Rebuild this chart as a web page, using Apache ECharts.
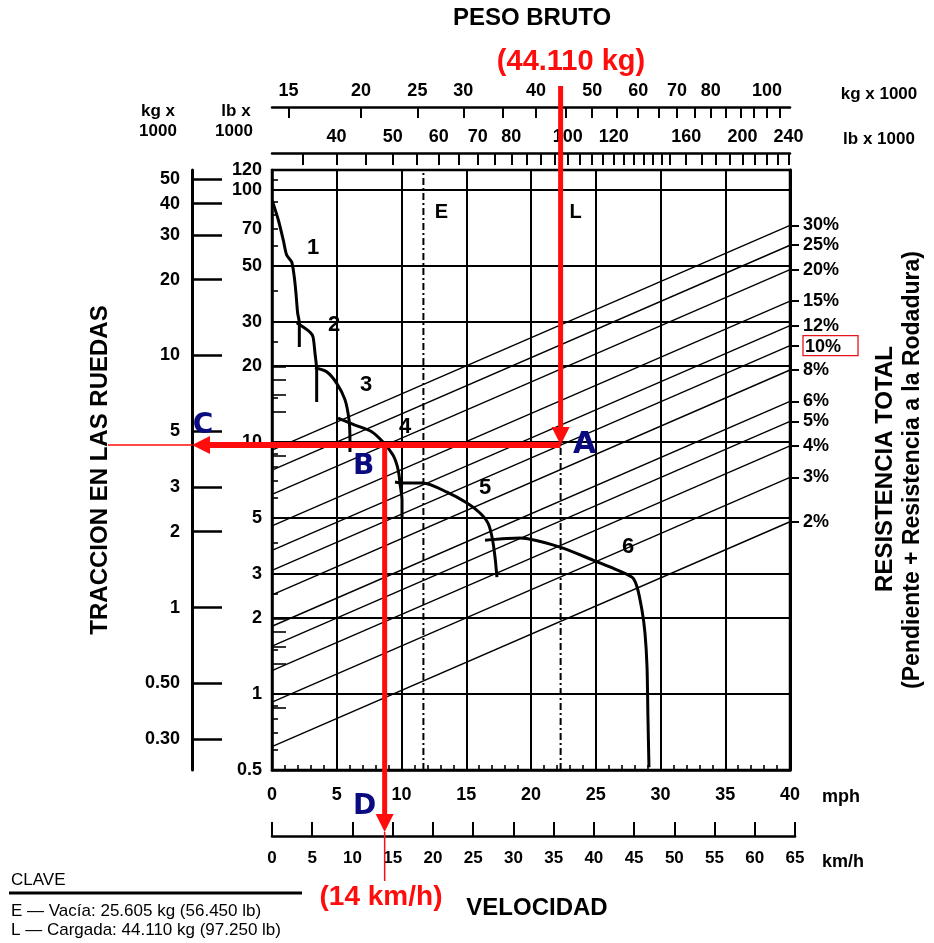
<!DOCTYPE html>
<html><head><meta charset="utf-8">
<script src="https://cdn.jsdelivr.net/npm/echarts@6/dist/echarts.min.js"></script>
<style>html,body{margin:0;padding:0;background:#fff}#c{width:934px;height:943px}</style>
</head><body><div id="c"></div>
<script>
// ---------------- data ----------------
// rimpull curves per gear: [speed mph, rimpull lb x 1000]
const gear1 = [[0.02,90.7],[0.49,76.0],[0.87,63.3],[1.13,55.2],[1.52,51.8],[1.72,45.2],[1.85,39.0],[1.98,32.5],[2.11,29.7],[2.11,23.8]];
const gear2 = [[1.91,29.7],[2.93,27.3],[3.17,26.1],[3.32,22.5],[3.45,19.3],[3.45,14.4]];
const gear3 = [[3.32,19.7],[4.22,19.0],[5.0,17.1],[5.64,14.7],[5.95,12.2],[6.02,10.2],[6.02,9.13]];
const gear4 = [[5.10,12.45],[6.41,11.68],[7.70,10.99],[8.57,10.0],[9.34,8.88],[9.65,8.10],[9.81,7.40],[9.88,6.88],[10.04,5.89],[10.04,4.99]];
const gear5 = [[9.50,6.94],[10.04,6.88],[11.66,6.88],[13.51,6.33],[15.06,5.73],[16.06,5.23],[16.68,4.77],[16.99,4.20],[17.22,3.50],[17.37,2.91]];
const gear6 = [[16.45,4.08],[19.15,4.16],[22.24,3.83],[24.79,3.40],[26.33,3.16],[27.80,2.91],[28.19,2.66],[28.57,2.15],[28.80,1.75],[28.96,1.28],[29.03,0.81],[29.11,0.513]];
const gears = [gear1, gear2, gear3, gear4, gear5, gear6];
// gear number labels: [text, mph, lb x 1000]
const gearLabels = [['1',3.17,58.9],['2',4.79,29.1],['3',7.26,16.8],['4',10.27,11.5],['5',16.45,6.57],['6',27.5,3.83]];
// total resistance lines (%)
const resistancePcts = [2,3,4,5,6,8,10,12,15,20,25,30];
const boxedPct = 10;
// weights (kg)
const E_KG = 25.605, L_KG = 44.11;
const SPEED_KMH = 14;
// axis ranges / ticks
const MPH_MAX = 40, KMH_MAX = 65, KMH_PER_MPH = 1.609344;
const KG_MIN = 14.05, KG_MAX = 109.5, LB_PER_KG = 2.20462;
const Y_MIN = 0.5, Y_MAX = 120;
const kgTopLabels = [15,20,25,30,40,50,60,70,80,100];
const kgTopTicks = [15,20,25,30,35,40,45,50,55,60,65,70,75,80,85,90,95,100,105];
const lbTopLabels = [40,50,60,70,80,100,120,160,200,240];
const lbTopTicks = [35,40,45,50,55,60,65,70,75,80,85,90,95,100,105,110,115,120,125,130,135,140,145,150,160,170,180,190,200,210,220,230,240];
const lbLeftLabels = [0.5,1,2,3,5,10,20,30,50,70,100,120];
const lbLeftTicks = [0.6,0.7,0.8,0.9,1,1.5,2,2.5,3,4,5,6,7,8,9,10,15,20,25,30,40,50,60,70,80,90,100,110];
const kgLeftLabels = [0.3,0.5,1,2,3,5,10,20,30,40,50];
const kgLeftMinor = [0.4,0.6,0.7,0.8,0.9,4,6,7,8,9];
const hGrid = [1,2,3,5,10,20,30,50,100];

// ---------------- layout ----------------
const GL = 272, GT = 170, GW = 518, GH = 600;
const KG_OFF = 80;
const G1_TOP = 835;
const FONT = "'Liberation Sans', Arial, Helvetica, sans-serif";
const LB_MIN = KG_MIN * LB_PER_KG, LB_MAX = KG_MAX * LB_PER_KG;
const lbl = {fontFamily: FONT, fontWeight: 'bold', fontSize: 18, color: '#000'};
const axLine = (w) => ({show: true, onZero: false, lineStyle: {color: '#000', width: w}});
const tickStyle = {color: '#000', width: 1.6};

const chart = echarts.init(document.getElementById('c'));

const series = [];
gears.forEach((g, i) => {
  series.push({
    type: 'line', name: 'Marcha ' + (i + 1), xAxisIndex: 0, yAxisIndex: 0,
    data: g, symbol: 'none', smooth: 0.25, z: 4,
    lineStyle: {color: '#000', width: 3},
    markLine: i === 0 ? {
      silent: true, symbol: ['none', 'none'], label: {show: false}, z: 1,
      lineStyle: {color: '#000', width: 2, type: 'solid'},
      data: hGrid.map(v => ({yAxis: v}))
    } : undefined
  });
});
resistancePcts.forEach(p => {
  series.push({
    type: 'line', name: p + '%', xAxisIndex: 3, yAxisIndex: 0, symbol: 'none', z: 2,
    lineStyle: {color: '#000', width: 1.4},
    data: [[LB_MIN, LB_MIN * p / 100], [LB_MAX, LB_MAX * p / 100]]
  });
});
[E_KG, L_KG].forEach((w, i) => {
  series.push({
    type: 'line', name: i ? 'L' : 'E', xAxisIndex: 2, yAxisIndex: 0, symbol: 'none', z: 3,
    lineStyle: {color: '#000', width: 2, type: [7, 3, 2, 3]},
    data: [[w, Y_MIN], [w, Y_MAX]]
  });
});

const option = {
  animation: false,
  backgroundColor: '#fff',
  grid: [
    {left: GL, top: GT, width: GW, height: GH, show: true, borderColor: '#000', borderWidth: 2.5, outerBoundsMode: 'none', containLabel: false},
    {left: GL, top: G1_TOP, width: GW * (KMH_MAX / KMH_PER_MPH) / MPH_MAX, height: 1, outerBoundsMode: 'none', containLabel: false}
  ],
  xAxis: [
    {gridIndex: 0, type: 'value', position: 'bottom', min: 0, max: MPH_MAX, interval: 5,
      axisLine: axLine(2.5), axisTick: {show: true, inside: true, length: 5, lineStyle: tickStyle},
      minorTick: {show: true, splitNumber: 5, length: 5, lineStyle: tickStyle},
      axisLabel: Object.assign({margin: 16}, lbl),
      splitLine: {show: true, lineStyle: {color: '#000', width: 2}}},
    {gridIndex: 1, type: 'value', position: 'bottom', min: 0, max: KMH_MAX, interval: 5,
      axisLine: axLine(2.5), axisTick: {show: true, inside: true, length: 14, lineStyle: {color: '#000', width: 2}},
      axisLabel: Object.assign({margin: 14}, lbl, {fontSize: 17}), splitLine: {show: false}},
    {gridIndex: 0, type: 'log', position: 'top', offset: 63, min: KG_MIN, max: KG_MAX,
      axisLine: axLine(2.5), axisTick: {show: true, inside: true, length: 11, customValues: kgTopTicks, lineStyle: {color: '#000', width: 2}},
      axisLabel: Object.assign({margin: 7, customValues: kgTopLabels, formatter: v => String(Math.round(v))}, lbl),
      splitLine: {show: false}},
    {gridIndex: 0, type: 'log', position: 'top', offset: 17, min: LB_MIN, max: LB_MAX,
      axisLine: axLine(2.5), axisTick: {show: true, inside: true, length: 12, customValues: lbTopTicks, lineStyle: {color: '#000', width: 2}},
      axisLabel: Object.assign({margin: 7, customValues: lbTopLabels, formatter: v => String(Math.round(v))}, lbl),
      splitLine: {show: false}}
  ],
  yAxis: [
    {gridIndex: 0, type: 'log', position: 'left', min: Y_MIN, max: Y_MAX,
      axisLine: axLine(2.5), axisTick: {show: true, inside: true, length: 6, customValues: lbLeftTicks, lineStyle: tickStyle},
      axisLabel: Object.assign({margin: 10, customValues: lbLeftLabels, formatter: v => String(v)}, lbl),
      splitLine: {show: false}},
    {gridIndex: 0, type: 'log', position: 'left', offset: KG_OFF, min: Y_MIN / LB_PER_KG, max: Y_MAX / LB_PER_KG,
      axisLine: axLine(3), axisTick: {show: true, inside: true, length: 30, customValues: kgLeftLabels, lineStyle: {color: '#000', width: 2.5}},
      axisLabel: Object.assign({margin: 12, customValues: kgLeftLabels, formatter: v => v < 1 ? v.toFixed(2) : String(v)}, lbl),
      splitLine: {show: false}},
    {gridIndex: 0, type: 'log', position: 'left', offset: KG_OFF, min: Y_MIN / LB_PER_KG, max: Y_MAX / LB_PER_KG,
      axisLine: {show: false}, axisTick: {show: true, inside: true, length: 14, customValues: kgLeftMinor, lineStyle: {color: '#000', width: 1.6}},
      axisLabel: {show: false}, splitLine: {show: false}},
    {gridIndex: 0, type: 'log', position: 'right', min: Y_MIN, max: Y_MAX,
      axisLine: axLine(3), axisTick: {show: true, inside: false, length: 9, customValues: resistancePcts.map(p => LB_MAX * p / 100), lineStyle: {color: '#000', width: 2}},
      axisLabel: Object.assign({margin: 13, customValues: resistancePcts.map(p => LB_MAX * p / 100),
        formatter: v => { const p = Math.round(v / LB_MAX * 100); return p === boxedPct ? '{box|' + p + '%}' : p + '%'; },
        rich: {box: {fontFamily: FONT, fontWeight: 'bold', fontSize: 18, color: '#000', borderColor: '#e8141b', borderWidth: 1.3, padding: [2, 17, 0, 2]}}}, lbl),
      splitLine: {show: false}},
    {gridIndex: 1, type: 'value', show: false}
  ],
  series: series
};
chart.setOption(option);

// ---------------- annotations ----------------
function txt(text, x, y, size, o) {
  o = o || {};
  return {type: 'text', x: x, y: y, rotation: o.rot || 0, z: 100, silent: true,
    style: {text: text, font: (o.weight || 'bold') + ' ' + size + 'px ' + (o.family || FONT),
      fill: o.color || '#000', align: o.align || 'center', verticalAlign: 'middle'}};
}
const RED = '#ff0d0d', NAVY = '#0b0b80';
const xA = chart.convertToPixel({xAxisIndex: 2}, L_KG);
const xE = chart.convertToPixel({xAxisIndex: 2}, E_KG);
const yA = chart.convertToPixel({yAxisIndex: 0}, L_KG * LB_PER_KG * boxedPct / 100);
const xB = chart.convertToPixel({xAxisIndex: 1}, SPEED_KMH);
const xC = GL - KG_OFF;
const yK = G1_TOP + 1;
const H = 18, HW = 9;
const g = [];
// gear numbers
gearLabels.forEach(gl => {
  const p = chart.convertToPixel({xAxisIndex: 0, yAxisIndex: 0}, [gl[1], gl[2]]);
  g.push(txt(gl[0], p[0], p[1], 22, {weight: 'bold'}));
});
// red arrows
g.push({type: 'line', z: 50, shape: {x1: xA, y1: 86, x2: xA, y2: yA - H}, style: {stroke: RED, lineWidth: 5}});
g.push({type: 'polygon', z: 50, shape: {points: [[xA - HW, yA - H], [xA + HW, yA - H], [xA, yA]]}, style: {fill: RED}});
g.push({type: 'line', z: 50, shape: {x1: xA, y1: yA, x2: xC + H, y2: yA}, style: {stroke: RED, lineWidth: 6}});
g.push({type: 'polygon', z: 50, shape: {points: [[xC + H, yA - HW], [xC + H, yA + HW], [xC, yA]]}, style: {fill: RED}});
g.push({type: 'line', z: 50, shape: {x1: xC, y1: yA, x2: 108, y2: yA}, style: {stroke: RED, lineWidth: 1.5}});
g.push({type: 'line', z: 50, shape: {x1: xB, y1: yA, x2: xB, y2: yK - 4 - H}, style: {stroke: RED, lineWidth: 5}});
g.push({type: 'polygon', z: 50, shape: {points: [[xB - HW, yK - 4 - H], [xB + HW, yK - 4 - H], [xB, yK - 4]]}, style: {fill: RED}});
g.push({type: 'line', z: 50, shape: {x1: xB, y1: yK - 4, x2: xB, y2: 881}, style: {stroke: RED, lineWidth: 1.5}});
// letters
g.push(txt('A', xA + 24, yA, 30, {color: NAVY, family: "'DejaVu Sans', sans-serif"}));
g.push(txt('B', xB - 21, yA + 22, 28, {color: NAVY, family: "'DejaVu Sans', sans-serif"}));
g.push(txt('C', xC + 11, yA - 19, 28, {color: NAVY, family: "'DejaVu Sans', sans-serif"}));
g.push(txt('D', xB - 20, 807, 28, {color: NAVY, family: "'DejaVu Sans', sans-serif"}));
g.push(txt('E', xE + 18, 212, 20));
g.push(txt('L', xA + 15, 212, 20));
// titles
g.push(txt('PESO BRUTO', 532, 18, 24));
g.push(txt('(44.110 kg)', 571, 62, 29, {color: RED}));
g.push(txt('kg x 1000', 879, 94, 17));
g.push(txt('lb x 1000', 879, 139, 17));
g.push(txt('kg x', 158, 111, 17));
g.push(txt('1000', 158, 131, 17));
g.push(txt('lb x', 236, 111, 17));
g.push(txt('1000', 234, 131, 17));
g.push(txt('TRACCION EN LAS RUEDAS', 100, 470, 24, {rot: Math.PI / 2}));
g.push(txt('RESISTENCIA TOTAL', 885, 469, 24, {rot: Math.PI / 2}));
g.push(txt('(Pendiente + Resistencia a la Rodadura)', 913, 470, 23, {rot: Math.PI / 2}));
g.push(txt('mph', 822, 797, 18, {align: 'left'}));
g.push(txt('km/h', 822, 862, 18, {align: 'left'}));
g.push(txt('(14 km/h)', 381, 897, 28, {color: RED}));
g.push(txt('VELOCIDAD', 537, 908, 24));
g.push(txt('CLAVE', 11, 880, 17, {align: 'left', weight: 'normal'}));
g.push({type: 'line', z: 50, shape: {x1: 9, y1: 893, x2: 302, y2: 893}, style: {stroke: '#000', lineWidth: 3}});
g.push(txt('E \u2014 Vac\u00eda: 25.605 kg (56.450 lb)', 11, 911, 17, {align: 'left', weight: 'normal'}));
g.push(txt('L \u2014 Cargada: 44.110 kg (97.250 lb)', 11, 930, 17, {align: 'left', weight: 'normal'}));
chart.setOption({graphic: g});
</script>
</body></html>
